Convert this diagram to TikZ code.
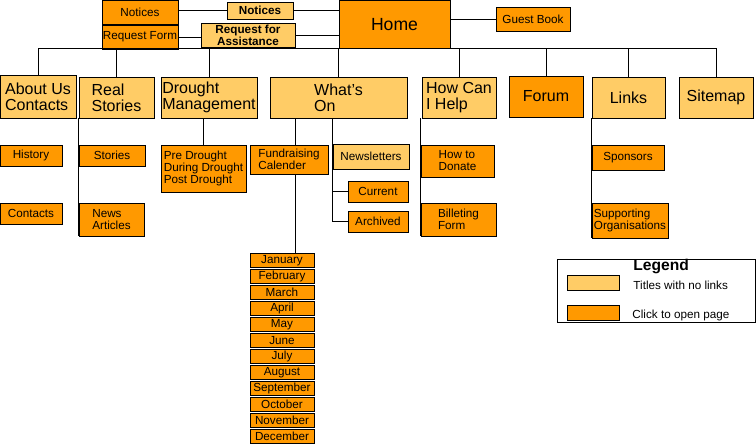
\documentclass[tikz,border=0pt]{standalone}
\usepackage{fontspec}
\setmainfont{Liberation Sans}
\usepackage{tikz}
\definecolor{pagecol}{HTML}{FF9900}
\definecolor{titlecol}{HTML}{FFCC66}
\begin{document}
\begin{tikzpicture}[x=1pt,y=-1pt,line width=0.9pt,
  box/.style={draw=black,inner sep=0pt,align=left,font=\fontsize{11.7}{12}\selectfont},
  page/.style={box,fill=pagecol},
  title/.style={box,fill=titlecol},
  big/.style={font=\fontsize{16}{16}\selectfont},
  heavy/.style={align=center,font=\fontsize{11.7}{12}\selectfont\bfseries}]
\useasboundingbox (0,0) rectangle (756,444);
% top row
\node[page,minimum width=76,minimum height=23.5] (noticespage) at (140,12.25) {Notices};
\node[page,minimum width=76,minimum height=24] (reqform) at (140,37) {Request Form};
\node[title,heavy,minimum width=66,minimum height=17] (noticestitle) at (260,10.5) {Notices};
\node[title,heavy,minimum width=94,minimum height=24] (rfa) at (248,35) {Request for\\Assistance};
\node[page,font=\fontsize{17.6}{18}\selectfont,minimum width=111,minimum height=47.5] (home) at (394.5,24.25) {Home};
\node[page,minimum width=74,minimum height=24] (guest) at (533,19) {Guest Book};
% main sections
\node[title,big,minimum width=76,minimum height=43] (about) at (38,96.5) {About Us\\Contacts};
\node[title,big,minimum width=75,minimum height=41] (real) at (116.5,97.5) {Real\\Stories};
\node[title,big,minimum width=96,minimum height=41] (drought) at (209,97.5) {Drought\\Management};
\node[title,big,minimum width=137,minimum height=41] (whatson) at (338.5,97.5) {What's\\On};
\node[title,big,minimum width=74,minimum height=41] (howcan) at (459,97.5) {How Can\\I Help};
\node[page,big,minimum width=74,minimum height=41] (forum) at (546,96.5) {Forum};
\node[title,big,minimum width=73,minimum height=41] (links) at (628.5,97.5) {Links};
\node[title,big,minimum width=74,minimum height=41] (sitemap) at (716,97.5) {Sitemap};
% sub pages
\node[page,minimum width=62,minimum height=21] (history) at (31,155.5) {History};
\node[page,minimum width=62,minimum height=21] (contacts) at (31,213.5) {Contacts};
\node[page,minimum width=66,minimum height=21] (stories) at (112,155.5) {Stories};
\node[page,minimum width=65,minimum height=33] (news) at (111.5,219.5) {News\\Articles};
\node[page,minimum width=85,minimum height=47] (pre) at (203.5,168.5) {Pre Drought\\During Drought\\Post Drought};
\node[page,minimum width=78,minimum height=29] (fund) at (289,159.5) {Fundraising\\Calender};
\node[title,minimum width=76,minimum height=25] (newsletters) at (371,156.5) {Newsletters};
\node[page,minimum width=60,minimum height=21] (current) at (378,191.5) {Current};
\node[page,minimum width=60,minimum height=21] (archived) at (378,221.5) {Archived};
\node[page,minimum width=73,minimum height=32] (donate) at (457.5,161) {How to\\Donate};
\node[page,minimum width=75,minimum height=33] (billeting) at (458.5,219.5) {Billeting\\Form};
\node[page,minimum width=72,minimum height=25] (sponsors) at (628,157.5) {Sponsors};
\node[page,minimum width=76,minimum height=35] (supporting) at (630,220.5) {Supporting\\Organisations};
% months
\foreach \m [count=\i from 0] in {January,February,March,April,May,June,July,August,September,October,November,December}
  \node[page,minimum width=64,minimum height=14] (m\i) at (282,260.5+16*\i) {\m};
% legend
\node[draw=black,inner sep=0pt,minimum width=198,minimum height=63] (legend) at (656,290.5) {};
\node[title,minimum width=52,minimum height=15] (keytitle) at (593,282.5) {};
\node[page,minimum width=52,minimum height=15] (keypage) at (593,312.5) {};
\node[anchor=west,inner sep=0pt,font=\fontsize{15.6}{16}\selectfont\bfseries] (legendtext) at (633,267) {Legend};
\node[anchor=west,inner sep=0pt,font=\fontsize{11.7}{12}\selectfont] (titletext) at (633,285.5) {Titles with no links};
\node[anchor=west,inner sep=0pt,font=\fontsize{11.7}{12}\selectfont] (pagetext) at (632,315) {Click to open page};
% connectors
\coordinate (fundtop) at ([xshift=6pt]fund.north);
\coordinate (fundbot) at ([xshift=6pt]fund.south);
\draw (noticespage.east |- noticestitle.west) -- (noticestitle.west);
\draw (noticestitle.east) -- (noticestitle.east -| home.west);
\draw (reqform.east) -- (reqform.east -| rfa.west);
\draw (rfa.east) -- (rfa.east -| home.west);
\draw (home.east |- guest.west) -- (guest.west);
\draw (about.north |- home.south) -- (sitemap.north |- home.south);
\foreach \s in {about,real,drought,whatson,howcan,forum,links,sitemap}
  \draw (\s.north) -- (\s.north |- home.south);
\draw (about.south west) -- (contacts.south west);
\draw (real.south west) -- (news.south west);
\draw (pre.north |- drought.south) -- (pre.north);
\draw (fundtop |- whatson.south) -- (fundtop);
\draw (fundbot) -- (fundbot |- m0.north);
\draw (newsletters.north west |- whatson.south) -- (newsletters.north west |- archived.west) -- (archived.west);
\draw (newsletters.north west |- current.west) -- (current.west);
\draw (donate.north west |- howcan.south) -- (billeting.south west);
\draw (sponsors.north west |- links.south) -- (supporting.south west);
\end{tikzpicture}
\end{document}
